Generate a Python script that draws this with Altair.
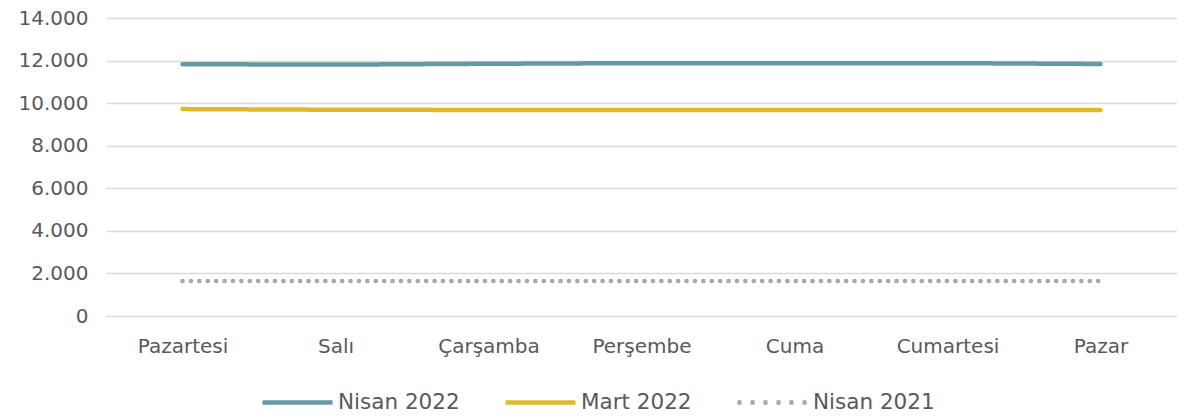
import altair as alt
import pandas as pd

days = ["Pazartesi", "Salı", "Çarşamba", "Perşembe", "Cuma", "Cumartesi", "Pazar"]
series_names = ["Nisan 2022", "Mart 2022", "Nisan 2021"]
nisan_2022 = [11830, 11810, 11850, 11880, 11870, 11880, 11840]
mart_2022 = [9720, 9690, 9680, 9680, 9680, 9680, 9680]
nisan_2021 = [1650, 1650, 1650, 1650, 1650, 1650, 1650]
colors = ["#6799A3", "#E0B92A", "#A6A6A6"]
legend_dashes = [[1, 0], [1, 0], [4, 9]]
y_ticks = [0, 2000, 4000, 6000, 8000, 10000, 12000, 14000]

rows = []
for name, vals in zip(series_names, [nisan_2022, mart_2022, nisan_2021]):
    for d, v in zip(days, vals):
        rows.append({"Gün": d, "Seri": name, "Değer": v})
df = pd.DataFrame(rows)

FONT = "DejaVu Sans"
FS = 20

legend = alt.Legend(title=None, orient="none", direction="horizontal",
                    legendX=154, legendY=347,
                    symbolType="stroke", symbolSize=4900, symbolStrokeWidth=4.5,
                    labelFontSize=21.5, labelColor="#595959", labelFont=FONT,
                    labelOffset=3, columnPadding=36)

x_enc = alt.X("Gün:N", sort=days, scale=alt.Scale(paddingOuter=0.5, paddingInner=0),
              axis=alt.Axis(title=None, labelAngle=0, ticks=False, domain=False, grid=False,
                            labelFontSize=FS, labelColor="#595959", labelFont=FONT,
                            labelPadding=20))
y_enc = alt.Y("Değer:Q", scale=alt.Scale(domain=[0, 14000], nice=False),
              axis=alt.Axis(title=None, values=y_ticks, ticks=False, domain=False,
                            labelExpr="replace(format(datum.value, ',.0f'), ',', '.')",
                            labelFontSize=FS, labelColor="#595959", labelFont=FONT,
                            labelPadding=18, gridColor="#D9D9D9", gridWidth=1.5))

base = alt.Chart(df)

solid = base.mark_line(strokeWidth=4.5, strokeCap="round").encode(
    x=x_enc, y=y_enc,
    color=alt.Color("Seri:N", sort=series_names,
                    scale=alt.Scale(domain=series_names, range=colors),
                    legend=legend),
    strokeDash=alt.StrokeDash("Seri:N", sort=series_names,
                              scale=alt.Scale(domain=series_names, range=legend_dashes),
                              legend=legend),
    opacity=alt.condition(alt.datum.Seri == "Nisan 2021", alt.value(0), alt.value(1)),
)

dotted = base.transform_filter(alt.datum.Seri == "Nisan 2021").mark_line(
    strokeWidth=4.5, strokeCap="round", strokeDash=[0.1, 8.3], color="#A6A6A6"
).encode(x=x_enc, y=y_enc)

chart = alt.layer(solid, dotted).properties(
    width=1071, height=298,
    autosize=alt.AutoSizeParams(type="none"),
    padding={"left": 98, "top": 10, "right": 0, "bottom": 100},
).configure_view(stroke=None)

chart.save("out.html", embed_options={"renderer": "svg", "actions": False})
